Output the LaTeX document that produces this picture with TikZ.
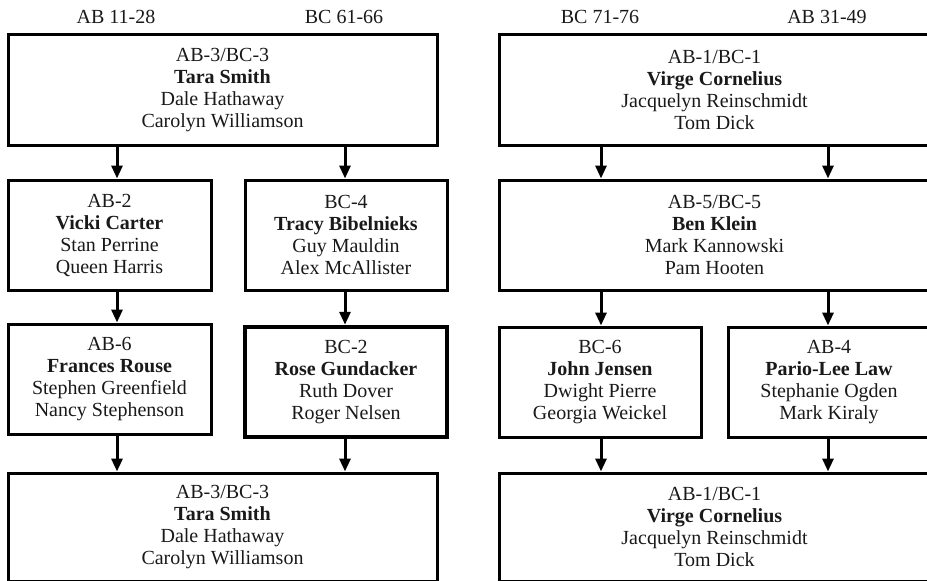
\documentclass[tikz,border=0pt]{standalone}
\usepackage{fontspec}
\setmainfont{Liberation Serif}
\usetikzlibrary{arrows.meta}
\begin{document}
\begin{tikzpicture}[x=1pt,y=-1pt,
  box/.style={draw=black,line width=3pt,rectangle,inner sep=0pt,align=center,
    font=\fontsize{20}{22}\selectfont,text=black!90},
  thickbox/.style={box,line width=4.5pt},
  hdr/.style={anchor=base,inner sep=0pt,font=\fontsize{20}{22}\selectfont,text=black!90},
  arr/.style={line width=3pt,-{Triangle[width=11pt,length=13pt]}}]
\useasboundingbox (0,0) rectangle (927,581);
% headers
\node[hdr] (h1) at (116,23) {AB 11-28};
\node[hdr] (h2) at (344,23) {BC 61-66};
\node[hdr] (h3) at (600,23) {BC 71-76};
\node[hdr] (h4) at (827,23) {AB 31-49};
% left block
\node[box,minimum width=429pt,minimum height=111pt] (L1) at (222.5,90) {AB-3/BC-3\\\textbf{Tara Smith}\\Dale Hathaway\\Carolyn Williamson};
\node[box,minimum width=203pt,minimum height=110pt] (L2a) at (109.5,235) {AB-2\\\textbf{Vicki Carter}\\Stan Perrine\\Queen Harris};
\node[box,minimum width=202pt,minimum height=110pt] (L2b) at (346,235) {BC-4\\\textbf{Tracy Bibelnieks}\\Guy Mauldin\\Alex McAllister};
\node[box,minimum width=203pt,minimum height=110pt] (L3a) at (109.5,379) {AB-6\\\textbf{Frances Rouse}\\Stephen Greenfield\\Nancy Stephenson};
\node[thickbox,minimum width=202pt,minimum height=110pt] (L3b) at (346,382) {BC-2\\\textbf{Rose Gundacker}\\Ruth Dover\\Roger Nelsen};
\node[box,minimum width=429pt,minimum height=108pt] (L4) at (222.5,527) {AB-3/BC-3\\\textbf{Tara Smith}\\Dale Hathaway\\Carolyn Williamson};
% right block
\node[box,minimum width=431pt,minimum height=111pt] (R1) at (714.5,90) {AB-1/BC-1\\\textbf{Virge Cornelius}\\Jacquelyn Reinschmidt\\Tom Dick};
\node[box,minimum width=431pt,minimum height=110pt] (R2) at (714.5,235) {AB-5/BC-5\\\textbf{Ben Klein}\\Mark Kannowski\\Pam Hooten};
\node[box,minimum width=202pt,minimum height=110pt] (R3a) at (600,382) {BC-6\\\textbf{John Jensen}\\Dwight Pierre\\Georgia Weickel};
\node[box,minimum width=202pt,minimum height=110pt] (R3b) at (829,382) {AB-4\\\textbf{Pario-Lee Law}\\Stephanie Ogden\\Mark Kiraly};
\node[box,minimum width=431pt,minimum height=108pt] (R4) at (714.5,527) {AB-1/BC-1\\\textbf{Virge Cornelius}\\Jacquelyn Reinschmidt\\Tom Dick};
% arrows left
\draw[arr] (L1.south -| 117,0) -- (L2a.north -| 117,0);
\draw[arr] (L1.south -| 345,0) -- (L2b.north -| 345,0);
\draw[arr] (L2a.south -| 117,0) -- (L3a.north -| 117,0);
\draw[arr] (L2b.south -| 345,0) -- (L3b.north -| 345,0);
\draw[arr] (L3a.south -| 117,0) -- (L4.north -| 117,0);
\draw[arr] (L3b.south -| 345,0) -- (L4.north -| 345,0);
% arrows right
\draw[arr] (R1.south -| 601,0) -- (R2.north -| 601,0);
\draw[arr] (R1.south -| 828,0) -- (R2.north -| 828,0);
\draw[arr] (R2.south -| 601,0) -- (R3a.north -| 601,0);
\draw[arr] (R2.south -| 828,0) -- (R3b.north -| 828,0);
\draw[arr] (R3a.south -| 601,0) -- (R4.north -| 601,0);
\draw[arr] (R3b.south -| 828,0) -- (R4.north -| 828,0);
\end{tikzpicture}
\end{document}
